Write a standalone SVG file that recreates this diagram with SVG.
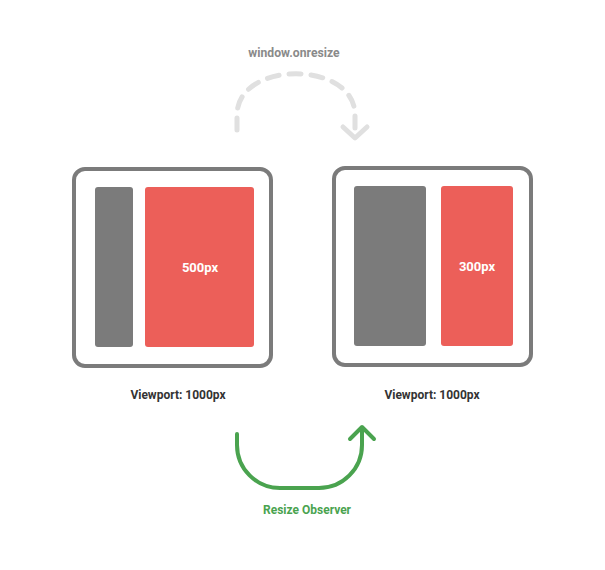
<svg xmlns="http://www.w3.org/2000/svg" width="605" height="570" viewBox="0 0 605 570">
<style>
.frame{fill:#fff;stroke:#7b7b7b;stroke-width:4}
.side{fill:#7b7b7b}
.main{fill:#ec5f59}
.in{font-family:Roboto,"Liberation Sans",sans-serif;font-weight:bold;font-size:13px;fill:#fff;text-anchor:middle}
.lbl{font-family:Roboto,"Liberation Sans",sans-serif;font-weight:bold;font-size:12px;fill:#333;text-anchor:middle}
</style>
<rect width="605" height="570" fill="#fff"/>
<g id="left-viewport">
<rect class="frame" x="74" y="169" width="197" height="197" rx="11"/>
<rect class="side" x="95" y="187" width="38" height="160" rx="3"/>
<rect class="main" x="145" y="187" width="109" height="160" rx="3"/>
<text class="in" x="200" y="272">500px</text>
<text class="lbl" x="178" y="399">Viewport: 1000px</text>
</g>
<g id="right-viewport">
<rect class="frame" x="334" y="168" width="197" height="197" rx="11"/>
<rect class="side" x="354" y="186" width="72" height="160" rx="3"/>
<rect class="main" x="441" y="186" width="72" height="160" rx="3"/>
<text class="in" x="477" y="271">300px</text>
<text class="lbl" x="432" y="399">Viewport: 1000px</text>
</g>
<g id="connectors" fill="none" stroke-linecap="round" stroke-linejoin="round">
<g id="window-onresize">
<path d="M237,130 V115 C237,60 355,60 355,115 V131" stroke="#e0e0e0" stroke-width="5" stroke-dasharray="12,10"/>
<path d="M343,127 L355,138 L367,127" stroke="#e0e0e0" stroke-width="5"/>
<text x="294" y="57" font-family="Roboto,'Liberation Sans',sans-serif" font-weight="bold" font-size="12.2" fill="#8a8a8a" stroke="none" text-anchor="middle">window.onresize</text>
</g>
<g id="resize-observer">
<path d="M237,434 V445 A43,43 0 0 0 280,488 H319 A43,43 0 0 0 362,445 V428" stroke="#4aa34f" stroke-width="4"/>
<path d="M350,439 L362,427 L374,439" stroke="#4aa34f" stroke-width="4"/>
<text x="307" y="514" font-family="Roboto,'Liberation Sans',sans-serif" font-weight="bold" font-size="12" fill="#4aa34f" stroke="none" text-anchor="middle">Resize Observer</text>
</g>
</g>
</svg>
